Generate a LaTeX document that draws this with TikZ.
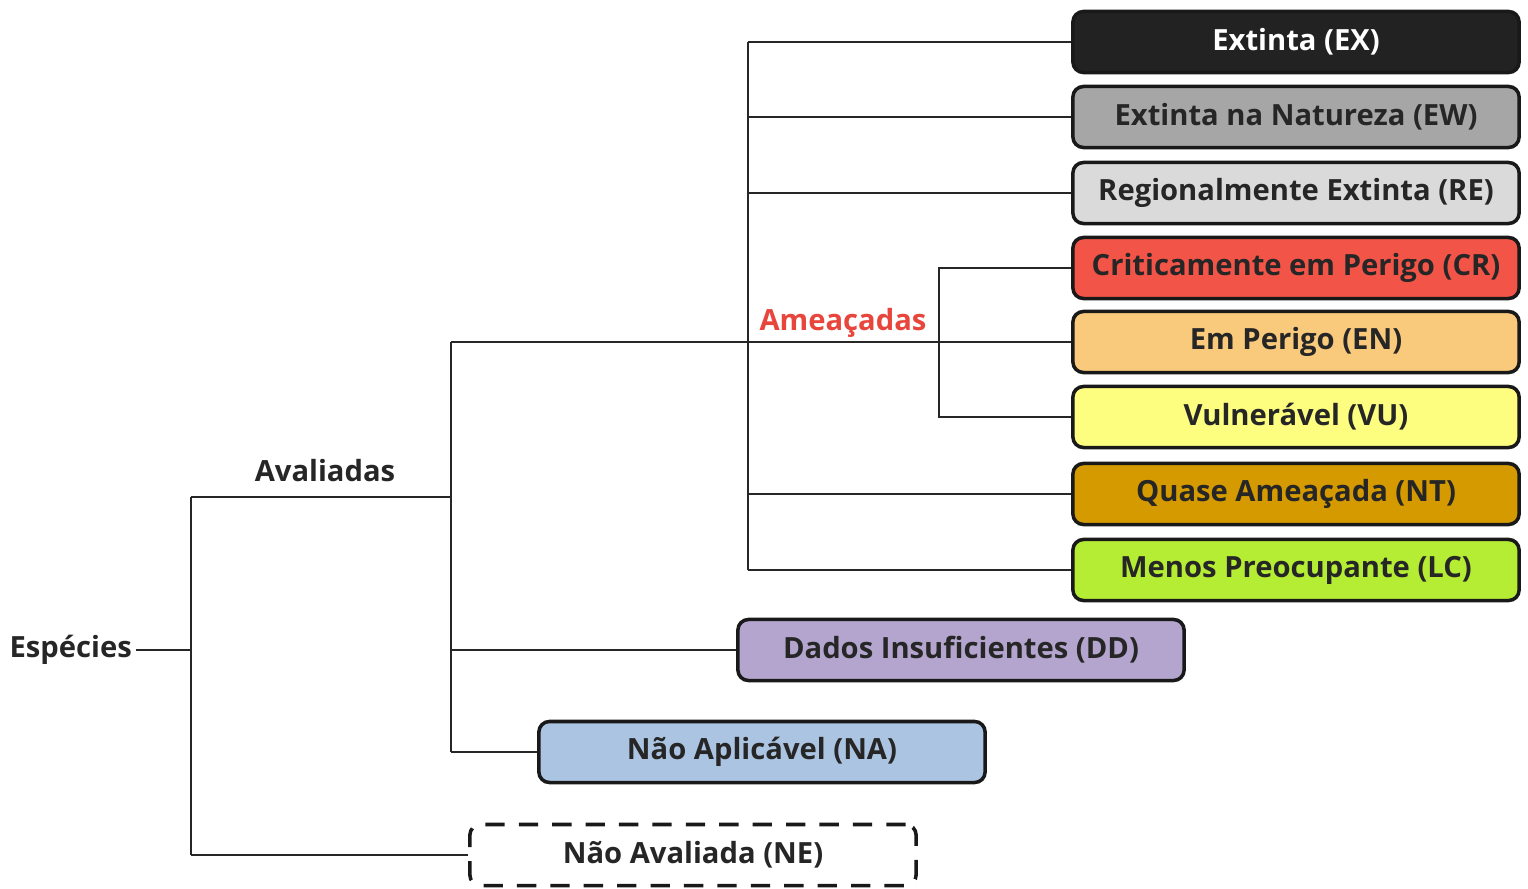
\documentclass[tikz,border=0pt]{standalone}
\usepackage{fontspec}
\setmainfont{Open Sans}
\usepackage{xcolor}
\usepackage{tikz}
\usetikzlibrary{calc,positioning}

\definecolor{colEX}{HTML}{222222}
\definecolor{colEW}{HTML}{A6A6A6}
\definecolor{colRE}{HTML}{DADADA}
\definecolor{colCR}{HTML}{F25447}
\definecolor{colEN}{HTML}{F9C97C}
\definecolor{colVU}{HTML}{FDFD80}
\definecolor{colNT}{HTML}{D49A00}
\definecolor{colLC}{HTML}{B5EC34}
\definecolor{colDD}{HTML}{B4A5CF}
\definecolor{colNA}{HTML}{AAC4E2}
\definecolor{colThreat}{HTML}{E8453C}

\begin{document}
\begin{tikzpicture}[x=0.01cm, y=-0.01cm]
        \tikzstyle{arr} = [line width=0.7pt, draw=black!85],
        \tikzstyle{category} = [shape=rectangle, rounded corners=3pt, align=center, draw=black!90, line width=1pt, minimum width=4.46cm, minimum height=0.61cm, font=\fontsize{8.3}{10}\selectfont\bfseries, text=black!85],
        \tikzstyle{label} = [font=\fontsize{8.3}{10}\selectfont\bfseries, text=black!85, inner sep=1pt],
        \useasboundingbox (0,0) rectangle (1528,888);

        % right column
        \node [category, fill=colEX, text=white, name=ex] at (1296,42) {Extinta (EX)};
        \node [category, fill=colEW, name=ew] at (1296,117) {Extinta na Natureza (EW)};
        \node [category, fill=colRE, name=re] at (1296,193) {Regionalmente Extinta (RE)};
        \node [category, fill=colCR, name=cr] at (1296,268) {Criticamente em Perigo (CR)};
        \node [category, fill=colEN, name=en] at (1296,342) {Em Perigo (EN)};
        \node [category, fill=colVU, name=vu] at (1296,417) {Vulnerável (VU)};
        \node [category, fill=colNT, name=nt] at (1296,494) {Quase Ameaçada (NT)};
        \node [category, fill=colLC, name=lc] at (1296,570) {Menos Preocupante (LC)};

        % lower boxes
        \node [category, fill=colDD, name=dd] at (961,650) {Dados Insuficientes (DD)};
        \node [category, fill=colNA, name=na] at (762,752) {Não Aplicável (NA)};
        \node [category, fill=white, dash pattern=on 5.5pt off 4pt, name=ne] at (693,855) {Não Avaliada (NE)};

        % labels
        \node [label, anchor=east, name=especies] at (136,650) {Espécies};
        \node [label, name=avaliadas] at (325,471) {Avaliadas};
        \node [label, text=colThreat, name=ameacadas] at (843,323) {Ameaçadas};

        % junctions
        \coordinate (rootTop) at (191,497);
        \coordinate (rootBot) at (191,855);
        \coordinate (avTop) at (451,342);
        \coordinate (avMid) at (451,497);
        \coordinate (avBot) at (451,752);
        \coordinate (catVert) at (748,0);
        \coordinate (thrVert) at (939,0);

        % arrows
        \draw [arr] (especies.east) -- (especies.east -| rootTop);
        \draw [arr] (rootTop) -- (rootBot);
        \draw [arr] (rootTop) -- (avMid);
        \draw [arr] (rootBot) -- (ne.west);

        \draw [arr] (avTop) -- (avBot);
        \draw [arr] (avTop) -- (en.west);
        \draw [arr] (dd.west -| avTop) -- (dd.west);
        \draw [arr] (avBot) -- (na.west);

        \draw [arr] (ex.west -| catVert) -- (lc.west -| catVert);
        \draw [arr] (ex.west -| catVert) -- (ex.west);
        \draw [arr] (ew.west -| catVert) -- (ew.west);
        \draw [arr] (re.west -| catVert) -- (re.west);
        \draw [arr] (nt.west -| catVert) -- (nt.west);
        \draw [arr] (lc.west -| catVert) -- (lc.west);

        \draw [arr] (cr.west) -- (cr.west -| thrVert) -- (vu.west -| thrVert) -- (vu.west);

    \end{tikzpicture}
\end{document}
